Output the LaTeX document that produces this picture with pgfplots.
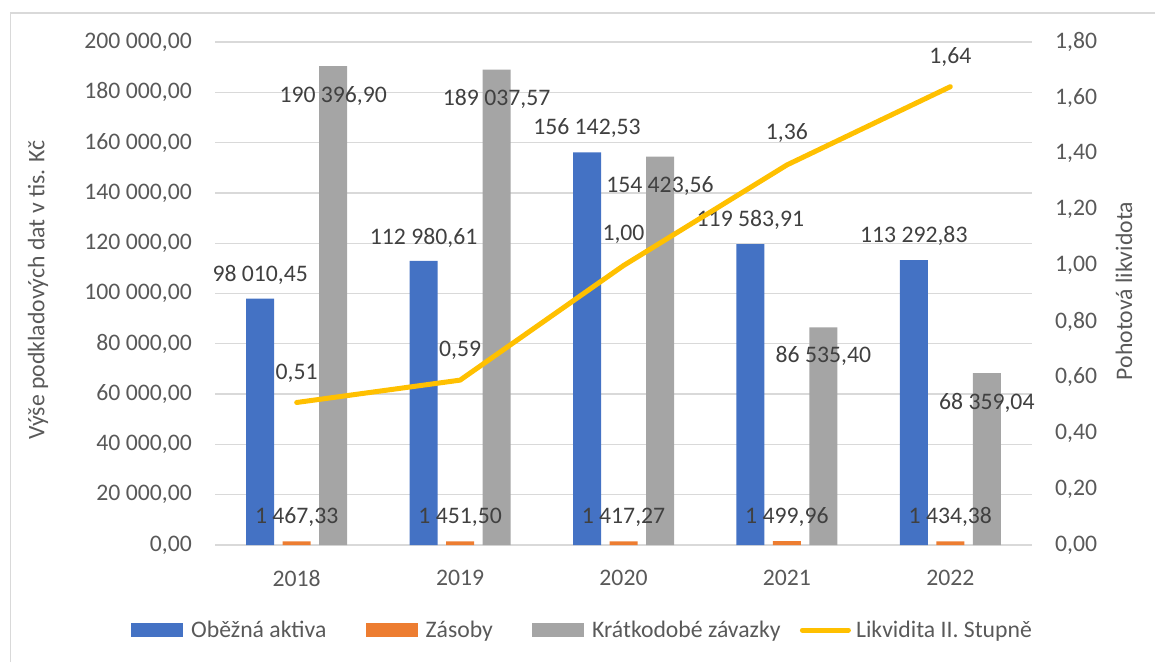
\documentclass[border=0pt]{standalone}
\usepackage{fontspec}
\setmainfont{Carlito}
\usepackage{pgfplots}
\pgfplotsset{compat=1.18}
\definecolor{cblue}{HTML}{4472C4}
\definecolor{corange}{HTML}{ED7D31}
\definecolor{cgray}{HTML}{A5A5A5}
\definecolor{cyellow}{HTML}{FFC000}
\definecolor{ctext}{HTML}{595959}
\definecolor{clabel}{HTML}{404040}
\definecolor{cgrid}{HTML}{D9D9D9}
\newcommand{\cf}{\fontsize{23.7}{28}\selectfont}
\tikzset{lbl/.style={font=\cf, text=clabel, anchor=base, yshift=-7.5pt, inner sep=0pt}}
\begin{document}
\begin{tikzpicture}[font=\cf]
\useasboundingbox (0pt,0pt) rectangle (1155pt,662pt);
\draw[cgrid, line width=1.5pt] (10.5pt,0pt) -- (10.5pt,649pt) -- (1155pt,649pt);
\node[rotate=90, text=ctext, inner sep=0pt] at (38pt,372pt) {Výše podkladových dat v tis. Kč};
\node[rotate=90, text=ctext, inner sep=0pt] at (1124pt,371pt) {Pohotová likvidota};

\begin{axis}[
  at={(215pt,117pt)}, anchor=south west,
  scale only axis, width=817pt, height=503pt,
  xmin=-0.5, xmax=4.5, ymin=0, ymax=200000,
  axis line style={draw=none},
  ymajorgrids, grid style={cgrid, line width=1.3pt},
  major tick length=0pt,
  xtick={0,1,2,3,4}, xticklabels={2018,2019,2020,2021,2022},
  ytick={0,20000,40000,60000,80000,100000,120000,140000,160000,180000,200000},
  yticklabels={{0,00},{20 000,00},{40 000,00},{60 000,00},{80 000,00},{100 000,00},{120 000,00},{140 000,00},{160 000,00},{180 000,00},{200 000,00}},
  scaled y ticks=false,
  tick label style={font=\cf, text=ctext},
  yticklabel style={anchor=east, inner sep=0pt, xshift=-23pt},
  xticklabel style={anchor=north, inner sep=0pt, yshift=-25pt},
  clip=false,
  legend columns=4,
  legend cell align=left,
  legend style={at={(axis description cs:-0.1028,-0.169)}, anchor=west, draw=none, fill=none,
     inner sep=0pt, font=\cf, text=ctext, column sep=0pt},
]
\addplot[ybar, bar width=28pt, bar shift=-36.5pt, fill=cblue, draw=none,
  legend image code/.code={\fill[cblue] (0pt,-7pt) rectangle (52pt,7pt); \path (58pt,0pt);}]
  coordinates {(0,98010.45) (1,112980.61) (2,156142.53) (3,119583.91) (4,113292.83)};
\addplot[ybar, bar width=28pt, bar shift=0pt, fill=corange, draw=none,
  legend image code/.code={\fill[corange] (0pt,-7pt) rectangle (52pt,7pt); \path (58pt,0pt);}]
  coordinates {(0,1467.33) (1,1451.50) (2,1417.27) (3,1499.96) (4,1434.38)};
\addplot[ybar, bar width=28pt, bar shift=36.5pt, fill=cgray, draw=none,
  legend image code/.code={\fill[cgray] (0pt,-7pt) rectangle (52pt,7pt); \path (58pt,0pt);}]
  coordinates {(0,190396.90) (1,189037.57) (2,154423.56) (3,86535.40) (4,68359.04)};
\addlegendimage{legend image code/.code={\draw[cyellow, line width=5pt, line cap=round] (2.5pt,0pt) -- (48.5pt,0pt); \path (0pt,0pt) (54pt,0pt);}}
\legend{\makebox[172.5pt][l]{Oběžná aktiva}, \makebox[104.5pt][l]{Zásoby}, \makebox[205.5pt][l]{Krátkodobé závazky}, Likvidita II. Stupně}

\node[lbl] at (axis cs:-0.2234,107753) {98 010,45};
\node[lbl] at (axis cs:0.7766,122464) {112 980,61};
\node[lbl] at (axis cs:1.7766,166202) {156 142,53};
\node[lbl] at (axis cs:2.7766,129621) {119 583,91};
\node[lbl] at (axis cs:3.7766,123260) {113 292,83};

\node[lbl] at (axis cs:0,11531) {1 467,33};
\node[lbl] at (axis cs:1,11531) {1 451,50};
\node[lbl] at (axis cs:2,11531) {1 417,27};
\node[lbl] at (axis cs:3,11531) {1 499,96};
\node[lbl] at (axis cs:4,11531) {1 434,38};

\node[lbl] at (axis cs:0.2234,178925) {190 396,90};
\node[lbl] at (axis cs:1.2234,177732) {189 037,57};
\node[lbl] at (axis cs:2.2234,143140) {154 423,56};
\node[lbl] at (axis cs:3.2234,75546) {86 535,40};
\node[lbl] at (axis cs:4.2234,56858) {68 359,04};
\end{axis}

\begin{axis}[
  at={(215pt,117pt)}, anchor=south west,
  scale only axis, width=817pt, height=503pt,
  xmin=-0.5, xmax=4.5, ymin=0, ymax=1.8,
  axis x line=none, axis y line*=right,
  y axis line style={draw=none},
  major tick length=0pt,
  ytick={0,0.2,0.4,0.6,0.8,1.0,1.2,1.4,1.6,1.8},
  yticklabels={{0,00},{0,20},{0,40},{0,60},{0,80},{1,00},{1,20},{1,40},{1,60},{1,80}},
  tick label style={font=\cf, text=ctext},
  yticklabel style={anchor=west, inner sep=0pt, xshift=23pt},
  clip=false,
]
\addplot[cyellow, line width=5pt, line cap=round, line join=round, mark=none]
  coordinates {(0,0.51) (1,0.59) (2,1.00) (3,1.36) (4,1.64)};
\node[lbl] at (axis cs:0,0.619) {0,51};
\node[lbl] at (axis cs:1,0.7014) {0,59};
\node[lbl] at (axis cs:2,1.1165) {1,00};
\node[lbl] at (axis cs:3,1.478) {1,36};
\node[lbl] at (axis cs:4,1.7499) {1,64};
\end{axis}
\end{tikzpicture}
\end{document}
